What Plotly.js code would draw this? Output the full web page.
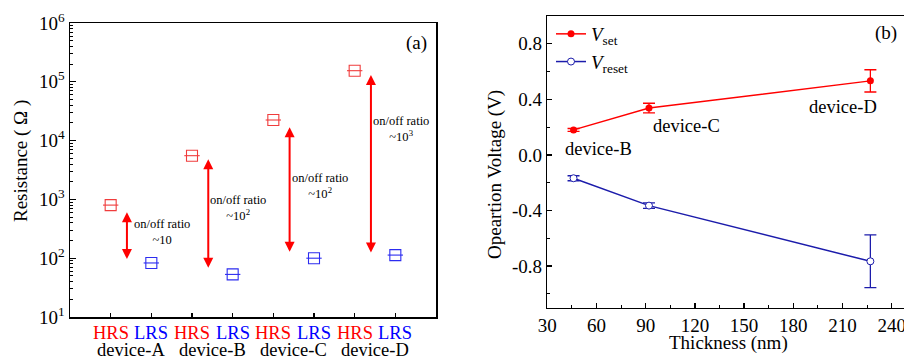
<!DOCTYPE html>
<html><head><meta charset="utf-8">
<script src="https://cdn.plot.ly/plotly-3.0.1.min.js"></script>
<style>html,body{margin:0;padding:0;background:#fff}#chart{width:904px;height:356px}</style>
</head><body><div id="chart"></div>
<script>
// ---------- data: panel (a) ----------
const devices = ['device-A', 'device-B', 'device-C', 'device-D'];
const hrsValues = [800, 5540, 22400, 154500];
const lrsValues = [83, 53, 100, 113];
const arrowTop = [604, 4810, 16800, 130600];
const arrowBottom = [91, 65, 121, 118];
const ratioText = ['~10', '~10<sup>2</sup>', '~10<sup>2</sup>', '~10<sup>3</sup>'];
const logTickVals = [10, 100, 1000, 10000, 100000, 1000000];
const logTickText = ['10<sup>1</sup>', '10<sup>2</sup>', '10<sup>3</sup>', '10<sup>4</sup>', '10<sup>5</sup>', '10<sup>6</sup>'];
// ---------- data: panel (b) ----------
const thickness = [46, 92, 227];
const vset = [0.18, 0.337, 0.533];
const vsetErr = [0.01, 0.035, 0.08];
const vreset = [-0.168, -0.365, -0.766];
const vresetErr = [0.018, 0.02, 0.19];
const deviceLabelsB = ['device-B', 'device-C', 'device-D'];
const vTickVals = [-0.8, -0.4, 0, 0.4, 0.8];
const vTickText = ['-0.8', '-0.4', '0.0', '0.4', '0.8'];
const tTickVals = [30, 60, 90, 120, 150, 180, 210, 240];
const tTickText = ['30', '60', '90', '120', '150', '180', '210', '240'];

const FONT = "Liberation Serif";
const RED = '#ff0000', BLUE = '#0000ff', NAVY = '#1c1cab';
const MRED = '#f03c3c', MBLUE = '#2c2cf0';

const hrsX = devices.map((d, i) => 2 * i + 1);
const lrsX = devices.map((d, i) => 2 * i + 2);
const minorLog = [];
for (let d = 1; d < 6; d++) for (let k = 2; k <= 9; k++) minorLog.push(k * Math.pow(10, d));

const traces = [
  {x: hrsX, y: hrsValues, xaxis: 'x', yaxis: 'y', mode: 'markers', showlegend: false,
   marker: {symbol: 'square-open', size: 11, color: MRED, line: {width: 1.1, color: MRED}}},
  {x: hrsX, y: hrsValues, xaxis: 'x', yaxis: 'y', mode: 'markers', showlegend: false,
   marker: {symbol: 'line-ew', size: 11, color: MRED, line: {width: 1.1, color: MRED}}},
  {x: lrsX, y: lrsValues, xaxis: 'x', yaxis: 'y', mode: 'markers', showlegend: false,
   marker: {symbol: 'square-open', size: 11, color: MBLUE, line: {width: 1.1, color: MBLUE}}},
  {x: lrsX, y: lrsValues, xaxis: 'x', yaxis: 'y', mode: 'markers', showlegend: false,
   marker: {symbol: 'line-ew', size: 11, color: MBLUE, line: {width: 1.1, color: MBLUE}}},
  {x: thickness, y: vset, xaxis: 'x2', yaxis: 'y2', mode: 'lines+markers', name: '<i>V</i><sub>set</sub>',
   line: {color: RED, width: 1.5}, marker: {symbol: 'circle', size: 7, color: RED},
   error_y: {type: 'data', array: vsetErr, visible: true, color: RED, thickness: 1.3, width: 6}},
  {x: thickness, y: vreset, xaxis: 'x2', yaxis: 'y2', mode: 'lines+markers', name: '<i>V</i><sub>reset</sub>',
   line: {color: NAVY, width: 1.5}, marker: {symbol: 'circle', size: 7, color: '#ffffff', line: {color: NAVY, width: 1}},
   error_y: {type: 'data', array: vresetErr, visible: true, color: NAVY, thickness: 1.3, width: 6}}
];

function txt(o) { return Object.assign({showarrow: false, xanchor: 'center', yanchor: 'middle'}, o); }

const annotations = [];
devices.forEach((d, i) => {
  const ax = 2 * i + 1.4;
  annotations.push({xref: 'x', yref: 'y', x: ax, y: Math.log10(arrowTop[i]), axref: 'x', ayref: 'y',
    ax: ax, ay: Math.log10(arrowBottom[i]), text: '', showarrow: true, arrowhead: 2, startarrowhead: 2,
    arrowside: 'end+start', arrowsize: 1, arrowwidth: 2, arrowcolor: RED, standoff: 0, startstandoff: 0});
  annotations.push(txt({xref: 'x', yref: 'paper', x: hrsX[i], y: 1 - 333 / 356, text: 'HRS',
    font: {family: FONT, size: 18.5, color: RED}}));
  annotations.push(txt({xref: 'x', yref: 'paper', x: lrsX[i], y: 1 - 333 / 356, text: 'LRS',
    font: {family: FONT, size: 18.5, color: BLUE}}));
  annotations.push(txt({xref: 'x', yref: 'paper', x: hrsX[i] + 0.5, y: 1 - 350 / 356, text: d,
    font: {family: FONT, size: 18.5, color: '#000'}}));
});
const ratioPos = [[2.27, 2.446], [4.14, 2.854], [6.14, 3.224], [8.14, 4.194]];
ratioPos.forEach((p, i) => {
  annotations.push(txt({xref: 'x', yref: 'y', x: p[0], y: p[1], text: 'on/off ratio<br>' + ratioText[i],
    align: 'center', font: {family: FONT, size: 12.5, color: '#000'}}));
});
annotations.push(txt({xref: 'x', yref: 'y', x: 8.52, y: 5.655, text: '(a)',
  font: {family: FONT, size: 19, color: '#000'}}));
annotations.push(txt({xref: 'paper', yref: 'paper', x: 21 / 904, y: 1 - 161 / 356, text: 'Resistance ( Ω )',
  textangle: -90, font: {family: FONT, size: 19, color: '#000'}}));
// panel b
const bLabelPos = [[61, 0.046], [115, 0.209], [210.5, 0.342]];
bLabelPos.forEach((p, i) => {
  annotations.push(txt({xref: 'x2', yref: 'y2', x: p[0], y: p[1], text: deviceLabelsB[i],
    font: {family: FONT, size: 18.5, color: '#000'}}));
});
annotations.push(txt({xref: 'x2', yref: 'y2', x: 236.5, y: 0.875, text: '(b)',
  font: {family: FONT, size: 19, color: '#000'}}));
annotations.push(txt({xref: 'paper', yref: 'paper', x: 495 / 904, y: 1 - 175 / 356, text: 'Opeartion Voltage (V)',
  textangle: -90, font: {family: FONT, size: 19, color: '#000'}}));
annotations.push(txt({xref: 'paper', yref: 'paper', x: 728 / 904, y: 1 - 343.3 / 356, text: 'Thickness (nm)',
  font: {family: FONT, size: 19, color: '#000'}}));

const axCommon = {showgrid: false, zeroline: false, showline: true, linecolor: '#000', linewidth: 1.5,
  mirror: true, ticks: 'inside', tickcolor: '#000', tickwidth: 1.2, automargin: false,
  tickfont: {family: FONT, size: 19, color: '#000'}};

const layout = {
  width: 904, height: 356, margin: {l: 0, r: 0, t: 0, b: 0},
  paper_bgcolor: '#fff', plot_bgcolor: 'rgba(0,0,0,0)',
  font: {family: FONT, color: '#000'},
  xaxis: Object.assign({}, axCommon, {domain: [70 / 904, 436 / 904], range: [0, 9], tickmode: 'array',
    tickvals: hrsX.concat(lrsX), showticklabels: false, ticklen: 4, anchor: 'y'}),
  yaxis: Object.assign({}, axCommon, {domain: [39 / 356, 333 / 356], type: 'log', range: [1, 6],
    tickmode: 'array', tickvals: logTickVals, ticktext: logTickText, ticklen: 6, anchor: 'x',
    minor: {tickmode: 'array', tickvals: minorLog, ticks: 'inside', ticklen: 3, tickcolor: '#000', tickwidth: 1}}),
  xaxis2: Object.assign({}, axCommon, {domain: [547.3 / 904, 1], range: [30, 247.5], tickmode: 'array',
    tickvals: tTickVals, ticktext: tTickText, ticklen: 5, anchor: 'y2', ticklabeloverflow: 'allow',
    minor: {dtick: 15, tick0: 30, ticks: 'inside', ticklen: 3, tickcolor: '#000', tickwidth: 1}}),
  yaxis2: Object.assign({}, axCommon, {domain: [48.3 / 356, 340 / 356], range: [-1.1, 1.0], tickmode: 'array',
    tickvals: vTickVals, ticktext: vTickText, ticklen: 5, anchor: 'x2',
    minor: {dtick: 0.2, tick0: 0, ticks: 'inside', ticklen: 3, tickcolor: '#000', tickwidth: 1}}),
  showlegend: true,
  legend: {x: 551 / 904, y: 1 - 15 / 356, xanchor: 'left', yanchor: 'top', bgcolor: 'rgba(0,0,0,0)',
    font: {family: FONT, size: 19, color: '#000'}, tracegroupgap: 0, itemwidth: 30},
  annotations: annotations
};

Plotly.newPlot('chart', traces, layout, {staticPlot: true, displayModeBar: false});
</script>
</body></html>
